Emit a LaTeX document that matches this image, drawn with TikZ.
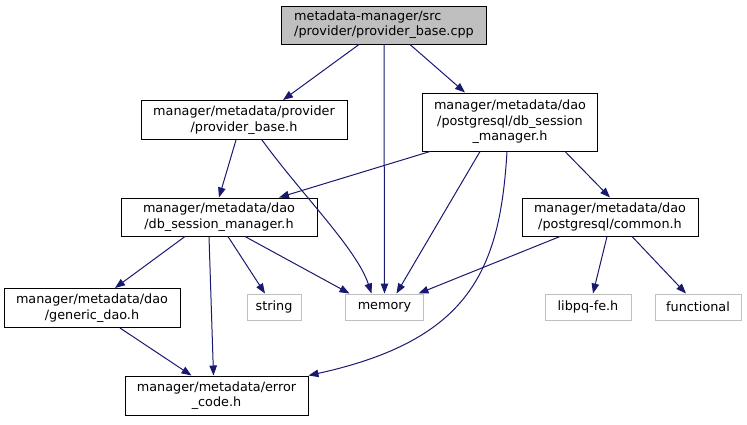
\documentclass[tikz,border=0pt]{standalone}
\usepackage{fontspec}
\setmainfont{DejaVu Sans}
\usetikzlibrary{arrows.meta}
\definecolor{edgeblue}{HTML}{191970}
\definecolor{lightgr}{HTML}{BFBFBF}
\begin{document}
\begin{tikzpicture}[x=1pt,y=-1pt,
  every node/.style={font=\fontsize{12.8}{15.5}\selectfont, align=center, inner sep=0pt},
  box/.style={draw=black, line width=1pt, fill=white},
  extbox/.style={draw=lightgr, line width=1pt, fill=white},
  dep/.style={draw=edgeblue, line width=1pt, -{Triangle[length=10pt,width=7.5pt]}, color=edgeblue}]
\useasboundingbox (0,0) rectangle (747,424);
\node[box, fill=lightgr, minimum width=205pt, minimum height=38pt] (n1) at (384,25) {\begin{tabular}{@{}l@{}}metadata-manager/src\\/provider/provider\_base.cpp\end{tabular}};
\node[box, minimum width=206pt, minimum height=39pt] (n2) at (244,120) {manager/metadata/provider\\/provider\_base.h};
\node[box, minimum width=175pt, minimum height=58pt] (n3) at (510,122) {manager/metadata/dao\\/postgresql/db\_session\\\_manager.h};
\node[box, minimum width=196pt, minimum height=38pt] (n4) at (219,217) {manager/metadata/dao\\/db\_session\_manager.h};
\node[box, minimum width=176pt, minimum height=38pt] (n5) at (610,217) {manager/metadata/dao\\/postgresql/common.h};
\node[box, minimum width=176pt, minimum height=39pt] (n6) at (92,308) {manager/metadata/dao\\/generic\_dao.h};
\node[extbox, minimum width=54pt, minimum height=26pt] (n7) at (274,307) {string};
\node[extbox, minimum width=78pt, minimum height=26pt] (n8) at (384.5,307) {memory};
\node[extbox, minimum width=86pt, minimum height=26pt] (n9) at (588,307) {libpq-fe.h};
\node[extbox, minimum width=86pt, minimum height=26pt] (n10) at (698,307) {functional};
\node[box, minimum width=183pt, minimum height=39pt] (n11) at (216.5,395.5) {manager/metadata/error\\\_code.h};

\draw[dep] ([xshift=-25pt]n1.south) -- ([xshift=39pt]n2.north);
\draw[dep] (n1.south) -- (n8.north);
\draw[dep] ([xshift=26pt]n1.south) -- ([xshift=-45pt]n3.north);
\draw[dep] ([xshift=-8pt]n2.south) -- (n4.north);
\draw[dep] ([xshift=18pt]n2.south) .. controls +(40,55) and +(-15,-45) .. ([xshift=-13pt]n8.north);
\draw[dep] ([xshift=-80pt]n3.south) -- ([xshift=60pt]n4.north);
\draw[dep] ([xshift=-30pt]n3.south) -- ([xshift=12pt]n8.north);
\draw[dep] ([xshift=-3pt]n3.south) .. controls (500,270) and (470,340) .. (n11.north east);
\draw[dep] ([xshift=55pt]n3.south) -- (n5.north);
\draw[dep] ([xshift=-34pt]n4.south) -- ([xshift=23pt]n6.north);
\draw[dep] ([xshift=9pt]n4.south) -- ([xshift=-9pt]n7.north);
\draw[dep] ([xshift=26pt]n4.south) -- ([xshift=-35pt]n8.north);
\draw[dep] ([xshift=-10pt]n4.south) -- ([xshift=-3pt]n11.north);
\draw[dep] ([xshift=-50pt]n5.south) -- ([xshift=34pt]n8.north);
\draw[dep] ([xshift=-3pt]n5.south) -- ([xshift=5pt]n9.north);
\draw[dep] ([xshift=22pt]n5.south) -- ([xshift=-12pt]n10.north);
\draw[dep] ([xshift=28pt]n6.south) -- ([xshift=-25pt]n11.north);
\end{tikzpicture}
\end{document}
